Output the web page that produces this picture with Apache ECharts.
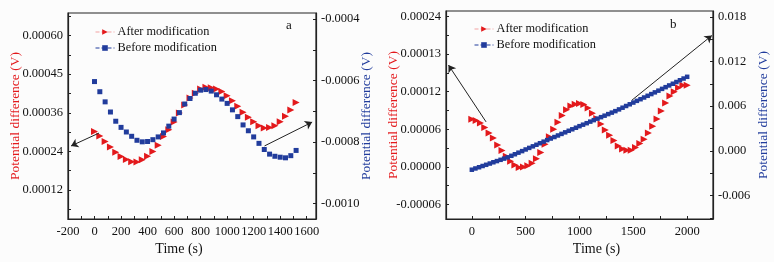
<!DOCTYPE html>
<html>
<head>
<meta charset="utf-8">
<script src="https://cdn.jsdelivr.net/npm/echarts@6/dist/echarts.min.js"></script>
<style>
  html, body { margin: 0; padding: 0; background: #fcfcfc; }
  #chart { width: 774px; height: 262px; }
</style>
</head>
<body>
<div id="chart"></div>
<script>
// ---- panel a ----
const timeA = [0, 40, 80, 120, 160, 200, 240, 280, 320, 360, 400, 440, 480, 520, 560, 600, 640, 680, 720, 760,
    800, 840, 880, 920, 960, 1000, 1040, 1080, 1120, 1160, 1200, 1240, 1280, 1320, 1360, 1400, 1440, 1480, 1520];
const afterA = [0.000302, 0.000288, 0.000271, 0.000254, 0.000237, 0.000224, 0.000215, 0.000208, 0.000207, 0.000214,
    0.000225, 0.000240, 0.000259, 0.000286, 0.000307, 0.000331, 0.000359, 0.000384, 0.000406, 0.000421,
    0.000434, 0.000439, 0.000438, 0.000434, 0.000426, 0.000413, 0.000397, 0.000380, 0.000362, 0.000346,
    0.000332, 0.000320, 0.000313, 0.000314, 0.000320, 0.000332, 0.000349, 0.000369, 0.000392];
const beforeA = [-0.000603, -0.000636, -0.000669, -0.000702, -0.000732, -0.000752, -0.000767, -0.000781, -0.000794, -0.000799,
    -0.000798, -0.000792, -0.000783, -0.000770, -0.000748, -0.000725, -0.000704, -0.000676, -0.000658, -0.000641,
    -0.000631, -0.000629, -0.000634, -0.000646, -0.000660, -0.000674, -0.000695, -0.000717, -0.000744, -0.000763,
    -0.000783, -0.000804, -0.000824, -0.000839, -0.000846, -0.000849, -0.000851, -0.000844, -0.000827];
const xTicksA = [-200, 0, 200, 400, 600, 800, 1000, 1200, 1400, 1600];
const xMinorA = [-200, -100, 0, 100, 200, 300, 400, 500, 600, 700, 800, 900, 1000, 1100, 1200, 1300, 1400, 1500, 1600];
const yLeftTicksA = [0.00012, 0.00024, 0.00036, 0.00048, 0.00060];
const yLeftLabelsA = ['0.00012', '0.00024', '0.00036', '0.00045', '0.00060'];
const yLeftMarksA = [0.00006, 0.00012, 0.00018, 0.00024, 0.00030, 0.00036, 0.00042, 0.00048, 0.00054, 0.00060, 0.00066];
const yRightTicksA = [-0.0010, -0.0008, -0.0006, -0.0004];
const yRightMarksA = [-0.0010, -0.0009, -0.0008, -0.0007, -0.0006, -0.0005, -0.0004];
const arrowsA = [[[34, 0.000297], [-177, 0.000257]], [[1282, 0.000257], [1641, 0.000331]]];

// ---- panel b ----
const timeAfterB = [0, 40, 80, 120, 160, 200, 240, 280, 320, 360, 400, 440, 480, 520, 560, 600, 640, 680, 720, 760,
    800, 840, 880, 920, 960, 1000, 1040, 1080, 1120, 1160, 1200, 1240, 1280, 1320, 1360, 1400, 1440, 1480, 1520, 1560,
    1600, 1640, 1680, 1720, 1760, 1800, 1840, 1880, 1920, 1960, 2000];
const afterB = [0.000076, 0.000074, 0.000070, 0.000063, 0.000054, 0.000046, 0.000035, 0.000026, 0.000017, 0.000009,
    0.000003, -0.000001, 0.000000, 0.000002, 0.000006, 0.000013, 0.000023, 0.000036, 0.000048, 0.000060,
    0.000071, 0.000082, 0.000091, 0.000097, 0.000100, 0.000101, 0.0000995, 0.000094, 0.0000855, 0.000077,
    0.0000685, 0.000059, 0.0000505, 0.000042, 0.0000335, 0.0000285, 0.0000267, 0.0000267, 0.000031, 0.0000375,
    0.000044, 0.000054, 0.000065, 0.0000765, 0.000089, 0.000102, 0.000113, 0.000120, 0.000126, 0.000130, 0.000130];
const timeBeforeB = [0, 33, 67, 100, 133, 167, 200, 233, 267, 300, 333, 367, 400, 433, 467, 500, 533, 567, 600, 633,
    667, 700, 733, 767, 800, 833, 867, 900, 933, 967, 1000, 1033, 1067, 1100, 1133, 1167, 1200, 1233, 1267, 1300,
    1333, 1367, 1400, 1433, 1467, 1500, 1533, 1567, 1600, 1633, 1667, 1700, 1733, 1767, 1800, 1833, 1867, 1900, 1933, 1967, 2000];
const beforeB = [-0.00253, -0.00236, -0.00220, -0.00203, -0.00187, -0.00170, -0.00153, -0.00137, -0.00120, -0.00104,
    -0.00087, -0.00066, -0.00045, -0.00024, -0.00003, 0.00019, 0.00040, 0.00061, 0.00082, 0.00103,
    0.00124, 0.00145, 0.00166, 0.00186, 0.00207, 0.00228, 0.00249, 0.00270, 0.00290, 0.00311,
    0.00332, 0.00352, 0.00372, 0.00393, 0.00413, 0.00433, 0.00453, 0.00473, 0.00494, 0.00514,
    0.00534, 0.00557, 0.00580, 0.00603, 0.00626, 0.00649, 0.00672, 0.00694, 0.00717, 0.00740,
    0.00763, 0.00786, 0.00809, 0.00833, 0.00856, 0.00879, 0.00902, 0.00925, 0.00949, 0.00972, 0.00995];
const xTicksB = [0, 500, 1000, 1500, 2000];
const xMinorB = [0, 250, 500, 750, 1000, 1250, 1500, 1750, 2000];
const yLeftTicksB = [-0.00006, 0.00000, 0.00006, 0.00012, 0.00018, 0.00024];
const yLeftLabelsB = ['-0.00006', '0.00000', '0.00006', '0.00012', '0.00013', '0.00024'];
const yLeftMarksB = [-0.00006, -0.00003, 0, 0.00003, 0.00006, 0.00009, 0.00012, 0.00015, 0.00018, 0.00021, 0.00024];
const yRightTicksB = [-0.006, 0.000, 0.006, 0.012, 0.018];
const yRightMarksB = [-0.009, -0.006, -0.003, 0, 0.003, 0.006, 0.009, 0.012, 0.015, 0.018];
const arrowsB = [[[132, 0.0000718], [-217, 0.0001623]], [[1487, 0.0001064], [2229, 0.0002094]]];

const RED = '#e3191c', BLUE = '#213c9c', FONT = 'Liberation Serif';
const seriesNames = ['After modification', 'Before modification'];

function pick(ticks, labels) {
    return function (v) {
        for (let i = 0; i < ticks.length; i++) {
            if (Math.abs(ticks[i] - v) < 1e-12) return labels[i];
        }
        return '';
    };
}
function arrowData(list) {
    return list.map(a => [{ coord: a[0] }, { coord: a[1] }]);
}
function xAxis(gi, min, max, ticks, marks, pad) {
    return {
        type: 'value', gridIndex: gi, min: min, max: max,
        name: 'Time (s)', nameLocation: 'middle', nameGap: 23, nameMoveOverlap: false,
        nameTextStyle: { fontFamily: FONT, fontSize: 14, color: '#111', padding: pad },
        axisLine: { onZero: false, lineStyle: { color: '#222', width: 1.2 } },
        axisTick: { inside: true, length: 3, customValues: marks, lineStyle: { color: '#222' } },
        axisLabel: { customValues: ticks, formatter: v => String(v), fontFamily: FONT, fontSize: 12.5, color: '#111', margin: 6 },
        splitLine: { show: false }
    };
}
function yAxis(gi, pos, min, max, ticks, fmt, marks, color) {
    return {
        type: 'value', gridIndex: gi, position: pos, min: min, max: max,
        name: 'Potential difference (V)', nameLocation: 'middle', nameRotate: 90,
        nameGap: pos === 'left' ? 46 : 43, nameMoveOverlap: false,
        nameTextStyle: { fontFamily: FONT, fontSize: 13.5, color: color },
        axisLine: { show: true, onZero: false, lineStyle: { color: '#222', width: 1.2 } },
        axisTick: { show: true, inside: true, length: 3, customValues: marks, lineStyle: { color: '#222' } },
        axisLabel: { customValues: ticks, formatter: fmt, fontFamily: FONT, fontSize: 12.5, color: '#111', margin: 5 },
        splitLine: { show: false }
    };
}
function zip(xs, ys) {
    return xs.map((x, i) => [x, ys[i]]);
}
function legend(left, top) {
    return {
        left: left, top: top, orient: 'vertical', itemWidth: 19, itemHeight: 7, itemGap: 4,
        textStyle: { fontFamily: FONT, fontSize: 12.3, color: '#111', padding: [0, 0, 0, -2] },
        data: [
            { name: seriesNames[0], lineStyle: { color: '#f3a2a2', type: 'dashed', width: 1, opacity: 1 } },
            { name: seriesNames[1], lineStyle: { color: BLUE, type: 'dashed', width: 1, opacity: 1 } }
        ]
    };
}
function afterSeries(xi, yi, data, arrows) {
    return {
        name: seriesNames[0], type: 'line', xAxisIndex: xi, yAxisIndex: yi, data: data,
        symbol: 'triangle', symbolRotate: -90, symbolSize: 7, showAllSymbol: true,
        itemStyle: { color: RED }, lineStyle: { opacity: 0 }, silent: true,
        markLine: {
            silent: true, symbol: ['none', 'arrow'], symbolSize: 7,
            lineStyle: { color: '#222', width: 1, type: 'solid' }, label: { show: false },
            data: arrowData(arrows)
        }
    };
}
function beforeSeries(xi, yi, data, size) {
    return {
        name: seriesNames[1], type: 'line', xAxisIndex: xi, yAxisIndex: yi, data: data,
        symbol: 'rect', symbolSize: size, showAllSymbol: true,
        itemStyle: { color: BLUE }, lineStyle: { opacity: 0 }, silent: true
    };
}

const chart = echarts.init(document.getElementById('chart'));
chart.setOption({
    backgroundColor: '#fcfcfc',
    animation: false,
    grid: [
        { left: 68, top: 13, width: 248, height: 206, show: true, borderColor: '#222', borderWidth: 1.2 },
        { left: 446, top: 11, width: 267, height: 208, show: true, borderColor: '#222', borderWidth: 1.2 }
    ],
    legend: [legend(90, 21), legend(469, 18)],
    xAxis: [
        xAxis(0, -200, 1670, xTicksA, xMinorA, [0, 26, 0, 0]),
        xAxis(1, -240, 2240, xTicksB, xMinorB, [0, 0, 0, 34])
    ],
    yAxis: [
        yAxis(0, 'left', 0.00003, 0.00067, yLeftTicksA, pick(yLeftTicksA, yLeftLabelsA), yLeftMarksA, RED),
        yAxis(0, 'right', -0.00105, -0.00038, yRightTicksA, v => v.toFixed(4), yRightMarksA, BLUE),
        yAxis(1, 'left', -0.000083, 0.0002485, yLeftTicksB, pick(yLeftTicksB, yLeftLabelsB), yLeftMarksB, RED),
        yAxis(1, 'right', -0.00915, 0.01879, yRightTicksB, v => v.toFixed(3), yRightMarksB, BLUE)
    ],
    graphic: [
        { type: 'text', left: 286, top: 19, style: { text: 'a', font: '13px "Liberation Serif"', fill: '#111' } },
        { type: 'text', left: 670, top: 18, style: { text: 'b', font: '13px "Liberation Serif"', fill: '#111' } }
    ],
    series: [
        afterSeries(0, 0, zip(timeA, afterA), arrowsA),
        beforeSeries(0, 1, zip(timeA, beforeA), 5),
        afterSeries(1, 2, zip(timeAfterB, afterB), arrowsB),
        beforeSeries(1, 3, zip(timeBeforeB, beforeB), 4.5)
    ]
});
</script>
</body>
</html>
